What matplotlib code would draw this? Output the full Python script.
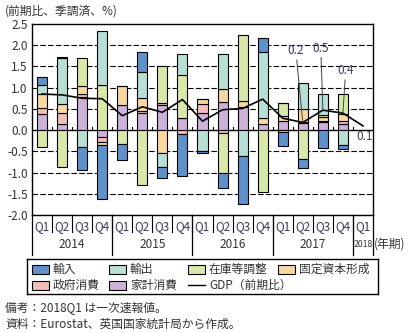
import numpy as np
import matplotlib
matplotlib.use("Agg")
import matplotlib.pyplot as plt
from matplotlib.patches import Rectangle
from matplotlib.lines import Line2D
import matplotlib.transforms as mtransforms

plt.rcParams['font.family'] = ['Noto Sans CJK JP', 'DejaVu Sans']

# data (contribution to q/q growth, %pt), 2014Q1 .. 2017Q4
quarters = ["Q1", "Q2", "Q3", "Q4"] * 4 + ["Q1"]
years = ["2014", "2015", "2016", "2017", "2018"]
hh  = [0.39, 0.15, 0.77, -0.16, 0.58, 0.41, 0.59, 0.28, 0.41, 0.66, 0.55, 0.15, 0.22, 0.16, 0.18, 0.14]
gov = [0.14, 0.245, 0.08, -0.11, 0.0, 0.03, 0.06, -0.08, 0.20, -0.06, 0.0, 0.0, -0.04, 0.02, 0.04, 0.08]
gfcf = [0.33, 0.21, 0.19, -0.09, 0.46, 0.32, -0.55, 0.0, 0.12, 0.31, 0.14, 0.13, 0.12, 0.32, 0.08, 0.16]
inv = [-0.40, -0.88, 0.66, 1.07, -0.32, -1.30, 0.85, 1.03, 0.0, -0.95, 1.55, -1.45, 0.30, -0.69, 0.06, 0.46]
exp_ = [0.21, 1.09, -0.39, 1.26, 0.0, 0.62, -0.33, 0.49, -0.49, 0.82, -0.62, 1.56, 0.0, 0.61, 0.50, -0.34]
imp = [0.18, 0.02, -0.56, -1.26, -0.39, 0.47, -0.24, -1.01, -0.06, -0.36, -1.11, 0.33, -0.33, -0.20, -0.43, -0.11]
gdp = [0.85, 0.83, 0.75, 0.74, 0.34, 0.55, 0.42, 0.72, 0.21, 0.48, 0.51, 0.73, 0.28, 0.18, 0.47, 0.40, 0.10]

# stacking order from zero outward
series = [
    ("家計消費", hh, "#cdb3da"),
    ("政府消費", gov, "#f2bdbb"),
    ("固定資本形成", gfcf, "#f9d7a0"),
    ("在庫等調整", inv, "#d9e8a9"),
    ("輸出", exp_, "#b7dfd6"),
    ("輸入", imp, "#5f92cb"),
]
colors = {name: c for name, _, c in series}

txt = "#333333"
qcol = "#3a3a60"

fig = plt.figure(figsize=(4.14, 3.33), dpi=100)
ax = fig.add_axes([32 / 414, 1 - 215 / 333, 341 / 414, 191 / 333])

n = len(hh)
x = np.arange(n)
pos = np.zeros(n)
neg = np.zeros(n)
for name, vals, c in series:
    v = np.array(vals)
    b = np.where(v >= 0, pos, neg)
    ax.bar(x, v, bottom=b, width=0.5, color=c, edgecolor="black", linewidth=0.8, zorder=3)
    pos = pos + np.where(v > 0, v, 0)
    neg = neg + np.where(v < 0, v, 0)

ax.plot(np.arange(len(gdp)), gdp, color="black", linewidth=1.2, zorder=4)

ax.set_xlim(-0.5, len(gdp) - 0.5)
ax.set_ylim(-2.0, 2.5)
yt = np.arange(-2.0, 2.51, 0.5)
ax.set_yticks(yt)
ax.set_yticklabels([f"{t:.1f}" for t in yt], fontsize=8.5, color=txt)
ax.tick_params(axis="y", length=0, pad=3)
ax.set_xticks([])
for t in yt:
    if abs(t) < 1e-9:
        ax.axhline(0, color="black", linewidth=1.0, zorder=2)
    elif t < 2.4:
        ax.axhline(t, color="black", linewidth=0.8, linestyle=(0, (5, 2)), zorder=1)
for s in ax.spines.values():
    s.set_linewidth(1.0)

# small ticks on the zero line between quarters
for i in range(len(gdp) - 1):
    ax.plot([i + 0.5, i + 0.5], [0, 0.07], color="black", linewidth=0.8, zorder=2)

# category axis: quarters and years
tr = mtransforms.blended_transform_factory(ax.transData, ax.transAxes)
for i, q in enumerate(quarters):
    ax.text(i, -0.058, q, transform=tr, ha="center", va="center", fontsize=8.5, color=qcol)
    if i < len(quarters) - 1:
        ax.plot([i + 0.5, i + 0.5], [0, -0.09], transform=tr, color="black",
                linewidth=0.8, clip_on=False)
bounds = [-0.5, 3.5, 7.5, 11.5, 15.5, 16.5]
for b in bounds:
    ax.plot([b, b], [0, -0.21], transform=tr, color="black", linewidth=0.9, clip_on=False)
for k, y in enumerate(years):
    xc = (bounds[k] + bounds[k + 1]) / 2
    ax.text(xc, -0.152, y, transform=tr, ha="center", va="center",
            fontsize=6.3 if y == "2018" else 8.5, color=txt)
ax.text(16.55, -0.152, "(年期)", transform=tr, ha="left", va="center", fontsize=8.5, color=txt)

# value labels
ann = [(13, (-5, 47), True), (14, (-1.5, 40), True), (15, (2, 26), True), (16, (1, -8), False)]
for idx, off, leader in ann:
    ax.annotate(f"{gdp[idx]:.1f}", xy=(idx, gdp[idx]), xytext=off, textcoords="offset points",
                ha="center", va="bottom" if leader else "center", fontsize=8.5, color=qcol,
                arrowprops=dict(arrowstyle="-", color="#444444", linewidth=0.7,
                                shrinkA=0, shrinkB=0) if leader else None, zorder=5)

fig.text(5 / 414, 1 - 11 / 333, "(前期比、季調済、%)", fontsize=8.5, color=txt, va="center")

# legend drawn by hand
lax = fig.add_axes([27 / 414, 1 - 294 / 333, 351 / 414, 35 / 333])
lax.set_xlim(0, 351)
lax.set_ylim(35, 0)
lax.set_xticks([])
lax.set_yticks([])
for s in lax.spines.values():
    s.set_linewidth(1.0)
items = [("輸入", 5, 10), ("輸出", 82, 10), ("在庫等調整", 161, 10), ("固定資本形成", 251, 10),
         ("政府消費", 5, 26), ("家計消費", 82, 26)]
for name, lx, ly in items:
    lax.add_patch(Rectangle((lx, ly - 4.5), 17, 9, facecolor=colors[name],
                            edgecolor="black", linewidth=0.8))
    lax.text(lx + 21, ly, name, fontsize=8.5, va="center", ha="left", color=txt)
lax.add_line(Line2D([161, 178], [26, 26], color="black", linewidth=1.0))
lax.text(182, 26, "GDP（前期比）", fontsize=8.5, va="center", ha="left", color=txt)

fig.text(5 / 414, 1 - 309 / 333, "備考：2018Q1 は一次速報値。", fontsize=8.5, color=txt, va="center")
fig.text(5 / 414, 1 - 324 / 333, "資料：Eurostat、英国国家統計局から作成。", fontsize=8.5, color=txt, va="center")

fig.savefig("out.png", dpi=100)
